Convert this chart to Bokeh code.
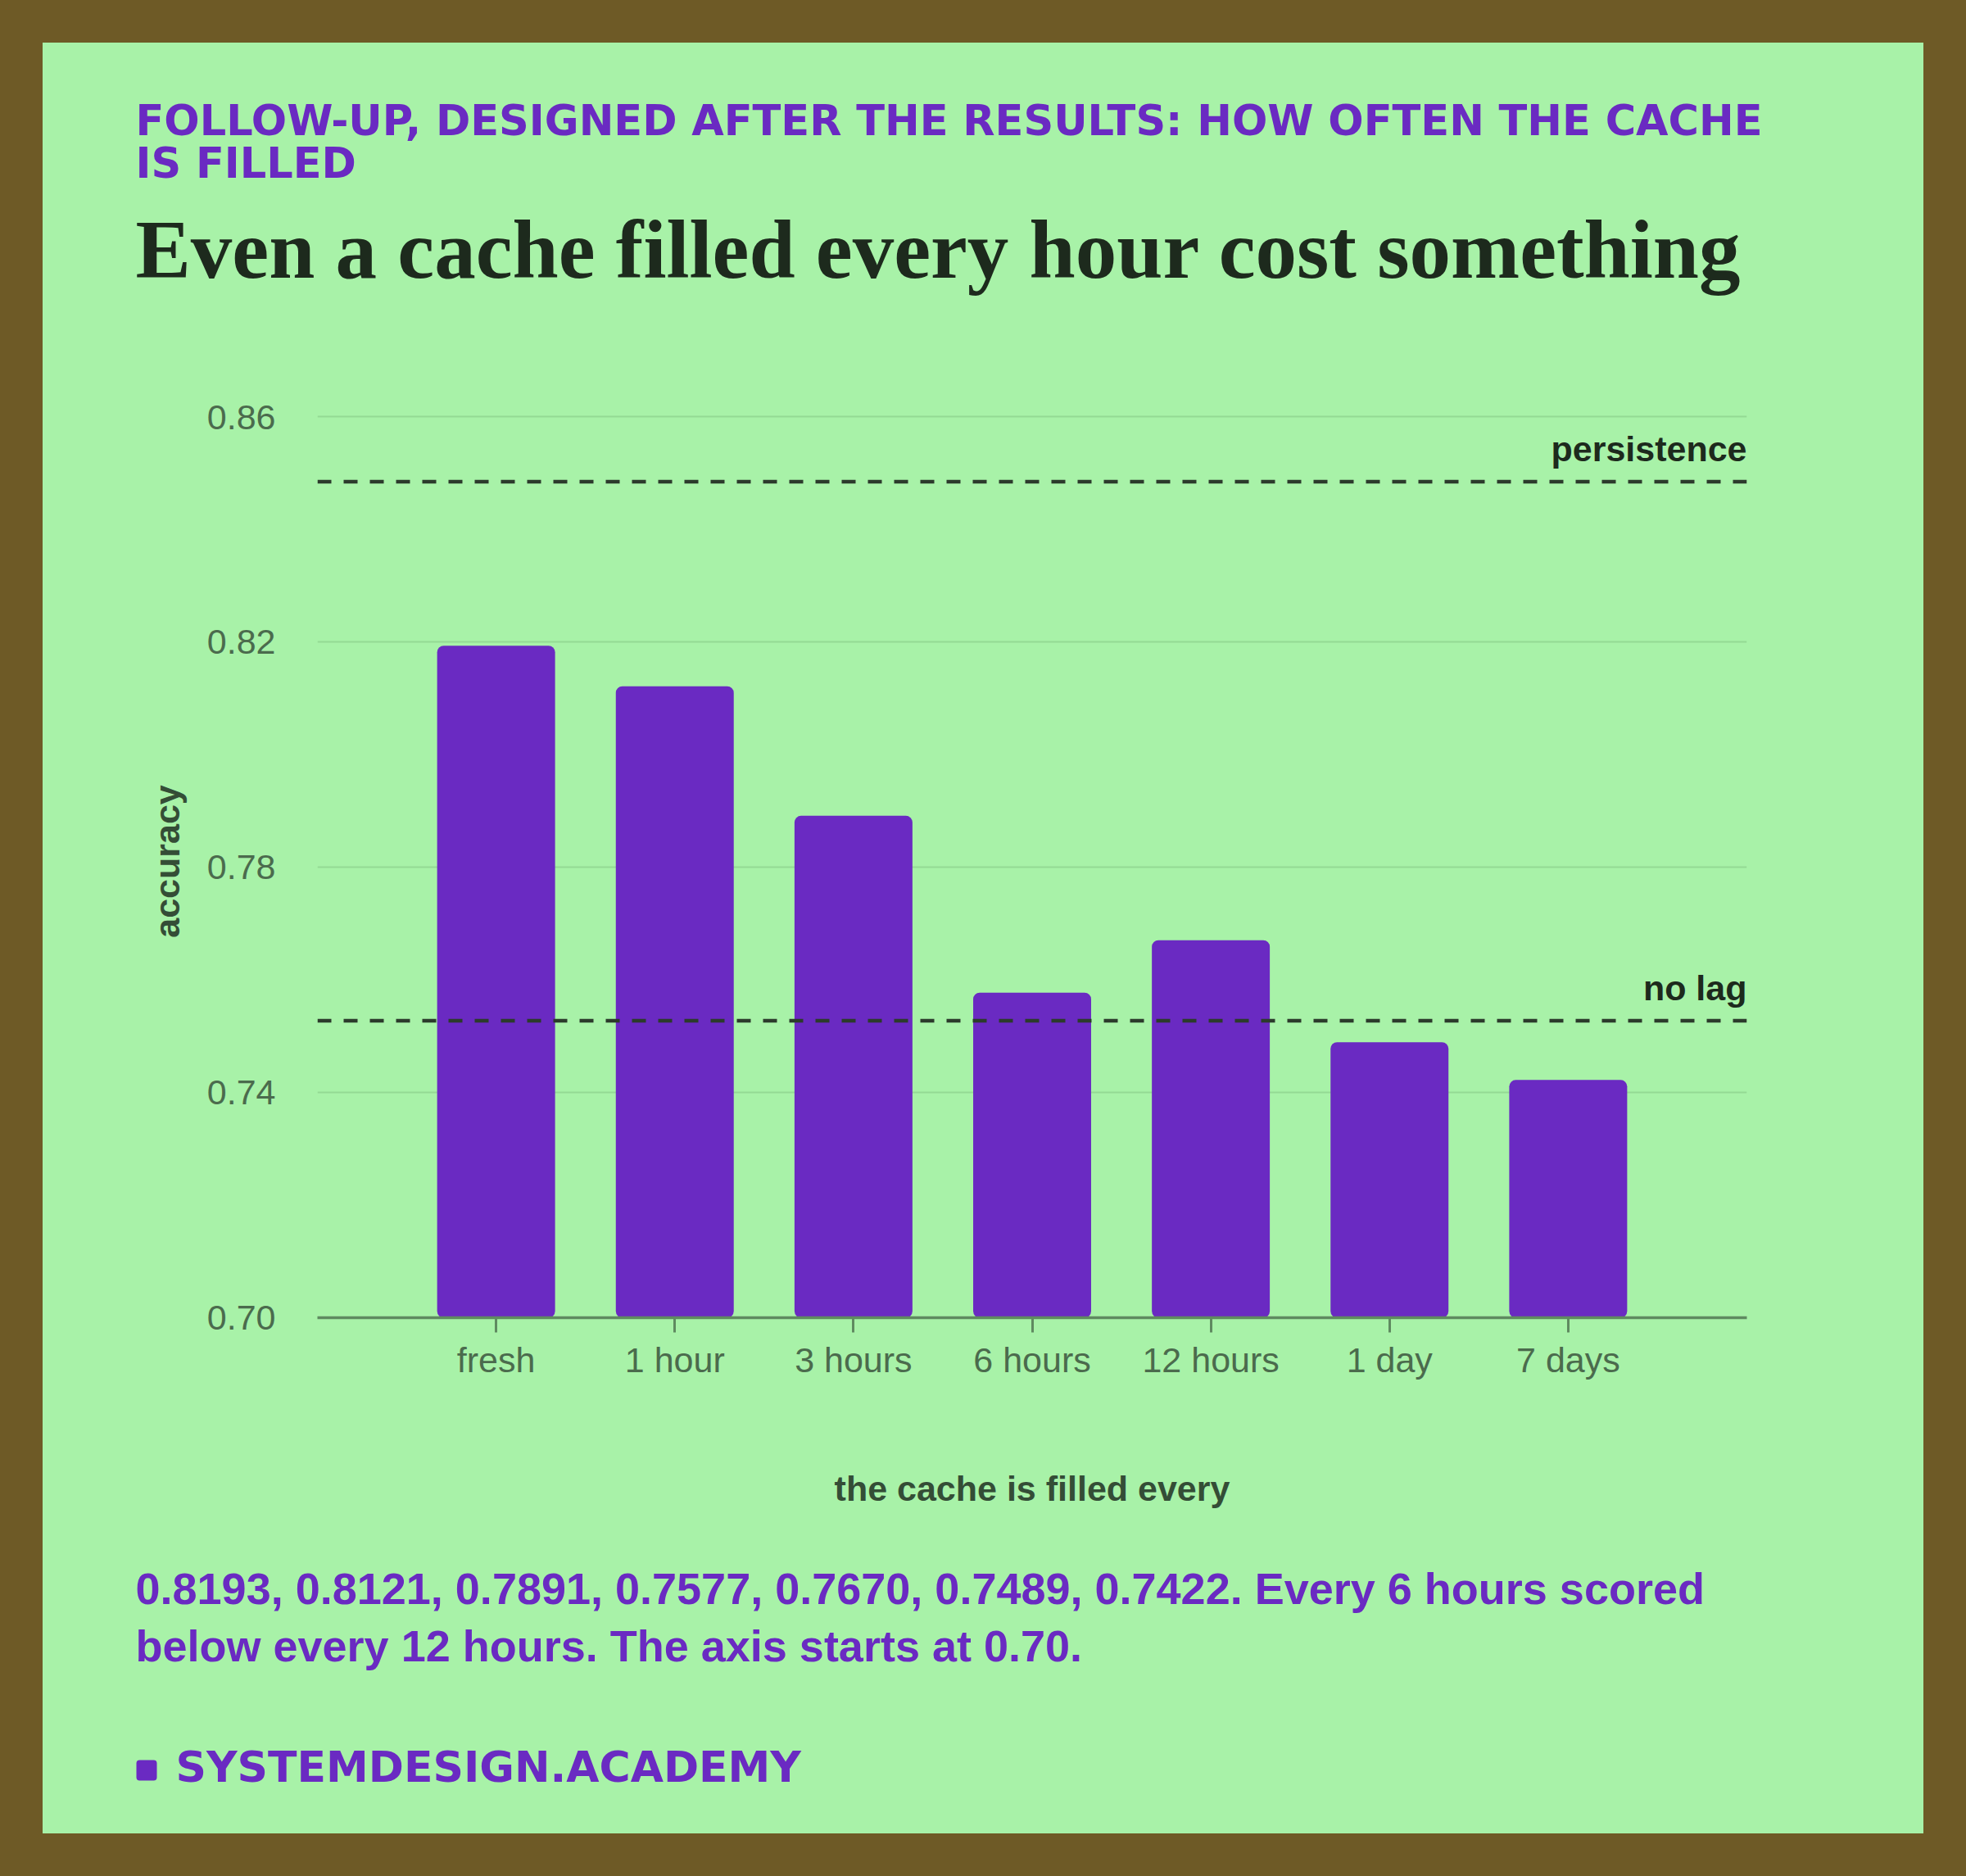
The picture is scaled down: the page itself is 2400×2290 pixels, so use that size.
#!/usr/bin/env python3
"""Bar chart: accuracy by how often the cache is filled, with two reference lines."""

from bokeh.core.properties import value
from bokeh.embed import file_html
from bokeh.layouts import column
from bokeh.models import (ColumnDataSource, FactorRange, FixedTicker,
                          NumeralTickFormatter, Range1d, Span)
from bokeh.plotting import figure
from bokeh.resources import INLINE

# data
intervals = ["fresh", "1 hour", "3 hours", "6 hours", "12 hours", "1 day", "7 days"]
accuracy = [0.8193, 0.8121, 0.7891, 0.7577, 0.7670, 0.7489, 0.7422]
reference_names = ["persistence", "no lag"]
reference_values = [0.8484, 0.7527]
y_ticks = [0.70, 0.74, 0.78, 0.82, 0.86]
y_start, y_end = 0.70, 0.862

kicker_lines = ["FOLLOW-UP, DESIGNED AFTER THE RESULTS: HOW OFTEN THE CACHE", "IS FILLED"]
headline = "Even a cache filled every hour cost something"
note_lines = [
    "0.8193, 0.8121, 0.7891, 0.7577, 0.7670, 0.7489, 0.7422. Every 6 hours scored",
    "below every 12 hours. The axis starts at 0.70.",
]
footer = "SYSTEMDESIGN.ACADEMY"

# colours
PANEL = "#a8f2a8"
PURPLE = "#6a2ac2"
INK = "#1d2a1d"
LABEL_INK = "#344d36"
TICK_INK = "#4b6b4d"
AXIS = "#5f8a60"
GRID = "#94da94"
DASH = "#2c3b2c"

# page geometry: the page padding supplies the brown edge, the panel is 2296 x 2186
W = 2296
TOP_H, CHART_H, FOOT_H = 442, 1398, 346
LEFT, RIGHT, BOTTOM = 335, 216, 284
FRAME_H = CHART_H - BOTTOM

SANS = "Liberation Sans"
# the svg text sits this fraction of the font size below the requested baseline
BASELINE_DROP = 0.37

PAGE = """
{% block postamble %}
<style>
  html, body { margin: 0 !important; background-color: #6e5a26 !important; overflow: hidden; }
  body { padding: 52px !important; }
</style>
{% endblock %}
"""


def no_frame_align(p):
    # keep each strip's frame independent inside the column
    if "frame_align" in type(p).properties():
        p.frame_align = False


def text_panel(height):
    # a blank strip whose data units are pixels, y growing downwards
    p = figure(width=W, height=height, x_range=Range1d(0, W), y_range=Range1d(height, 0),
               output_backend="svg", toolbar_location=None, tools="", title=None,
               x_axis_location=None, y_axis_location=None, min_border=0)
    p.background_fill_color = PANEL
    p.border_fill_color = PANEL
    p.outline_line_color = None
    p.grid.grid_line_color = None
    p.styles = {"background-color": PANEL}
    no_frame_align(p)
    return p


def add_text(p, text, x, baseline, size, font=SANS, color=INK):
    y = baseline - BASELINE_DROP * size
    p.text(x=[x], y=[y], text=[text], text_font=value(font), text_font_size=f"{size}px",
           text_font_style="bold", text_color=color, text_align="left",
           text_baseline="alphabetic")


def make_header():
    p = text_panel(TOP_H)
    add_text(p, kicker_lines[0], 113, 114, 51, font="DejaVu Sans", color=PURPLE)
    add_text(p, kicker_lines[1], 113, 166, 51, font="DejaVu Sans", color=PURPLE)
    add_text(p, headline, 113, 290, 101, font="Liberation Serif", color=INK)
    return p


def make_footer():
    p = text_panel(FOOT_H)
    add_text(p, note_lines[0], 113, 66, 54, color=PURPLE)
    add_text(p, note_lines[1], 113, 136, 54, color=PURPLE)
    # small square before the wordmark
    p.quad(left=[114], right=[139], top=[256], bottom=[281], fill_color=PURPLE,
           line_color=None, border_radius=4)
    add_text(p, footer, 162, 284, 52, font="DejaVu Sans", color=PURPLE)
    return p


def make_chart():
    source = ColumnDataSource(data=dict(interval=intervals, accuracy=accuracy))

    p = figure(
        width=W, height=CHART_H,
        x_range=FactorRange(factors=intervals, range_padding=0.5, range_padding_units="absolute"),
        y_range=Range1d(y_start, y_end),
        output_backend="svg", toolbar_location=None, tools="", title=None,
        min_border_left=LEFT, min_border_right=RIGHT,
        min_border_top=0, min_border_bottom=BOTTOM,
    )
    p.background_fill_color = PANEL
    p.border_fill_color = PANEL
    p.outline_line_color = None
    p.styles = {"background-color": PANEL}
    no_frame_align(p)

    p.vbar(x="interval", top="accuracy", bottom=y_start, width=0.66, source=source,
           fill_color=PURPLE, line_color=None, border_radius=8)

    # reference lines, names right-aligned at the frame edge, baseline 24px above the line
    px_per_unit = FRAME_H / (y_end - y_start)
    lift = (24 + BASELINE_DROP * 43) / px_per_unit
    x_edge = len(intervals) + 0.5
    for val in reference_values:
        p.add_layout(Span(location=val, dimension="width", line_color=DASH,
                          line_width=4.5, line_dash="17 15"))
    ref_source = ColumnDataSource(data=dict(
        x=[x_edge] * len(reference_values),
        y=[v + lift for v in reference_values],
        name=reference_names,
    ))
    p.text(x="x", y="y", text="name", source=ref_source, text_align="right",
           text_baseline="alphabetic", text_font=value(SANS), text_font_size="43px",
           text_font_style="bold", text_color=INK)

    # grid
    p.xgrid.grid_line_color = None
    p.ygrid.ticker = FixedTicker(ticks=y_ticks)
    p.ygrid.grid_line_color = GRID
    p.ygrid.grid_line_width = 2

    # x axis
    xa = p.xaxis[0]
    xa.axis_line_color = AXIS
    xa.axis_line_width = 3.5
    xa.major_tick_line_color = AXIS
    xa.major_tick_line_width = 3
    xa.major_tick_in = 0
    xa.major_tick_out = 18
    xa.minor_tick_line_color = None
    xa.major_label_text_font = SANS
    xa.major_label_text_font_size = "43px"
    xa.major_label_text_color = TICK_INK
    xa.major_label_standoff = 9
    xa.axis_label = "the cache is filled every"
    xa.axis_label_text_font = SANS
    xa.axis_label_text_font_size = "43px"
    xa.axis_label_text_font_style = "bold"
    xa.axis_label_text_color = LABEL_INK
    xa.axis_label_standoff = 106

    # y axis
    ya = p.yaxis[0]
    ya.ticker = FixedTicker(ticks=y_ticks)
    ya.formatter = NumeralTickFormatter(format="0.00")
    ya.axis_line_color = None
    ya.major_tick_line_color = None
    ya.minor_tick_line_color = None
    ya.major_tick_in = 0
    ya.major_tick_out = 0
    ya.minor_tick_out = 0
    ya.major_label_text_font = SANS
    ya.major_label_text_font_size = "43px"
    ya.major_label_text_color = TICK_INK
    ya.major_label_standoff = 51
    ya.axis_label = "accuracy"
    ya.axis_label_text_font = SANS
    ya.axis_label_text_font_size = "43px"
    ya.axis_label_text_font_style = "bold"
    ya.axis_label_text_color = LABEL_INK
    ya.axis_label_standoff = 22
    return p


def main():
    page = column(make_header(), make_chart(), make_footer(), spacing=0,
                  styles={"background-color": PANEL})
    open("out.html", "w").write(file_html(page, INLINE, template=PAGE))


if __name__ == "__main__":
    main()
